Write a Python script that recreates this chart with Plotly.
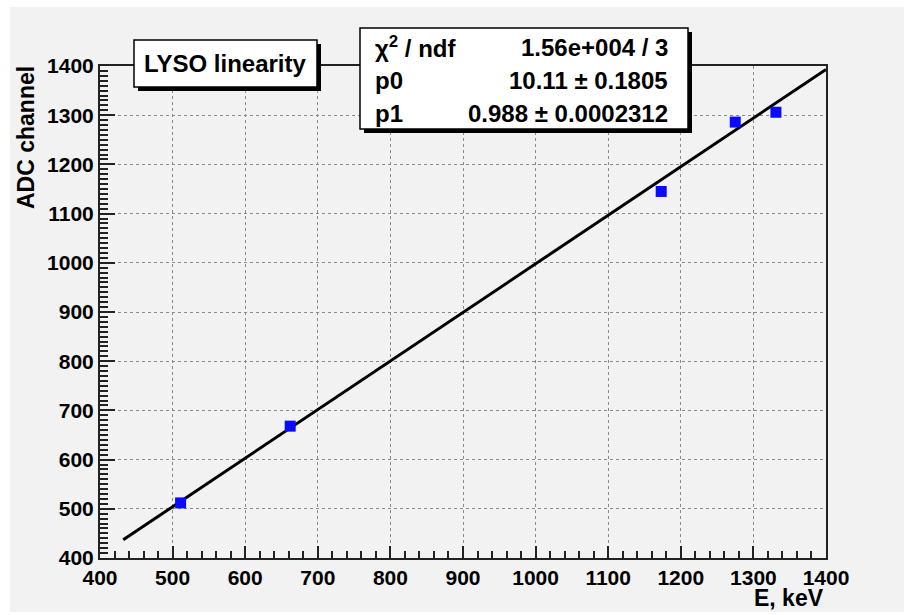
import plotly.graph_objects as go

# ---- data ----
energy_kev = [511, 662, 1173, 1275, 1331]
adc_channel = [512, 668, 1145, 1286, 1306]
fit_x = [432, 1400]
fit_y = [437, 1393]
stat_labels = ["χ<sup>2</sup> / ndf", "p0", "p1"]
stat_values = ["1.56e+004 / 3", "10.11 ± 0.1805", "0.988 ± 0.0002312"]
box_title = "LYSO linearity"
x_title = "E, keV"
y_title = "ADC channel"

W, H = 904, 615
L, R, T, B = 100, 78, 66, 57
PW, PH = W - L - R, H - T - B


def px(x):
    return (x - L) / PW


def py(y):
    return (H - B - y) / PH


FONT = "Liberation Sans, Arial, sans-serif"
BG = "#f2f2f2"

fig = go.Figure()
fig.add_trace(go.Scatter(x=fit_x, y=fit_y, mode="lines",
                         line=dict(color="black", width=3), hoverinfo="skip"))
fig.add_trace(go.Scatter(x=energy_kev, y=adc_channel, mode="markers",
                         marker=dict(symbol="square", size=11, color="#0a0aff",
                                     line=dict(width=0))))

shapes = []
# canvas background
shapes.append(dict(type="rect", xref="paper", yref="paper", layer="below",
                   x0=px(10), x1=px(904), y0=py(612), y1=py(7),
                   fillcolor=BG, line=dict(width=0)))


def box(x0, y0, x1, y1):
    sh = 4
    shapes.append(dict(type="rect", xref="paper", yref="paper",
                       x0=px(x0 + sh), x1=px(x1 + sh), y0=py(y1 + sh), y1=py(y0 + sh),
                       fillcolor="black", line=dict(width=0)))
    shapes.append(dict(type="rect", xref="paper", yref="paper",
                       x0=px(x0), x1=px(x1), y0=py(y1), y1=py(y0),
                       fillcolor="white", line=dict(color="black", width=1.5)))


box(134, 40, 317, 87)
box(360, 28, 688, 129)

ann = []
ann.append(dict(text=box_title, xref="paper", yref="paper", x=px(225), y=py(64),
                xanchor="center", yanchor="middle", showarrow=False,
                font=dict(family=FONT, size=24, color="black", weight="bold")))
row_y = [47, 80, 113]
for lab, val, yy in zip(stat_labels, stat_values, row_y):
    ann.append(dict(text=lab, xref="paper", yref="paper", x=px(373), y=py(yy),
                    xanchor="left", yanchor="middle", showarrow=False,
                    font=dict(family=FONT, size=24, color="black", weight="bold")))
    ann.append(dict(text=val, xref="paper", yref="paper", x=px(670), y=py(yy),
                    xanchor="right", yanchor="middle", showarrow=False,
                    font=dict(family=FONT, size=24, color="black", weight="bold")))
ann.append(dict(text=x_title, xref="paper", yref="paper", x=px(826), y=py(598),
                xanchor="right", yanchor="middle", showarrow=False,
                font=dict(family=FONT, size=23, color="black", weight="bold")))
ann.append(dict(text=y_title, xref="paper", yref="paper", x=px(26), y=py(138),
                xanchor="center", yanchor="middle", showarrow=False, textangle=-90,
                font=dict(family=FONT, size=23, color="black", weight="bold")))

axis_common = dict(showline=True, linecolor="#222", linewidth=2, mirror=True,
                   showgrid=True, gridcolor="#8a8a8a", griddash="dot", gridwidth=1,
                   zeroline=False, ticks="inside", tickcolor="#222", tickwidth=1.5,
                   tickfont=dict(family=FONT, size=21, color="black", weight="bold"))

fig.update_layout(
    width=W, height=H,
    margin=dict(l=L, r=R, t=T, b=B),
    paper_bgcolor="white", plot_bgcolor=BG,
    showlegend=False,
    shapes=shapes, annotations=ann,
    xaxis=dict(range=[400, 1400], dtick=100, tick0=400, ticklen=12,
               minor=dict(dtick=20, ticklen=7, ticks="inside", tickcolor="#222",
                          showgrid=False),
               **axis_common),
    yaxis=dict(range=[400, 1400], dtick=100, tick0=400, ticklen=15,
               minor=dict(dtick=10, ticklen=8, ticks="inside", tickcolor="#222",
                          showgrid=False),
               **axis_common),
)

fig.write_html("out.html")
